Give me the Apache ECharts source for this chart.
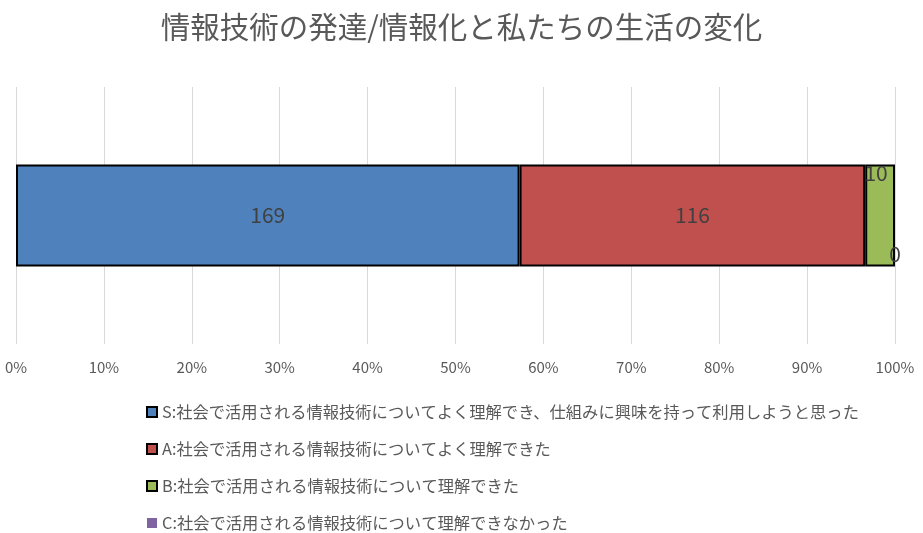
<!DOCTYPE html>
<html><head><meta charset="utf-8">
<script src="https://cdn.jsdelivr.net/npm/echarts@6/dist/echarts.min.js"></script>
<style>html,body{margin:0;padding:0;background:#fff}#c{width:923px;height:533px}</style>
</head><body><div id="c"></div>
<script>
const titleText = '情報技術の発達/情報化と私たちの生活の変化';
const seriesNames = [
  'S:社会で活用される情報技術についてよく理解でき、仕組みに興味を持って利用しようと思った',
  'A:社会で活用される情報技術についてよく理解できた',
  'B:社会で活用される情報技術について理解できた',
  'C:社会で活用される情報技術について理解できなかった'
];
const counts = [169, 116, 10, 0];
const colors = ['#4F81BD', '#C0504D', '#9BBB59', '#8064A2'];
const categories = [''];
const total = counts.reduce((a, b) => a + b, 0);
const font = '"Noto Sans CJK JP", "Noto Sans", sans-serif';
const labelPos = ['inside', 'inside', 'insideTop', 'insideBottom'];

const series = seriesNames.map((name, i) => ({
  name: name,
  type: 'bar',
  stack: 'all',
  barWidth: 102,
  data: [counts[i] / total * 100],
  itemStyle: { color: colors[i], borderColor: '#000', borderWidth: counts[i] > 0 ? 2 : 0 },
  label: {
    show: true,
    position: labelPos[i],
    distance: i === 2 ? 0 : (i === 3 ? 2 : 5),
    offset: i === 2 ? [-4, -2] : [0, 0],
    formatter: () => String(counts[i]),
    color: '#404040',
    fontSize: 21,
    fontFamily: font
  },
  emphasis: { disabled: true }
}));

const chart = echarts.init(document.getElementById('c'));
chart.setOption({
  animation: false,
  title: {
    text: titleText, left: 'center', top: 7,
    textStyle: { color: '#595959', fontSize: 29.5, fontWeight: 'normal', fontFamily: font }
  },
  legend: {
    orient: 'vertical', left: 146, top: 403, padding: 0,
    itemWidth: 10, itemHeight: 10, itemGap: 19,
    textStyle: { color: '#595959', fontSize: 16.3, lineHeight: 18, fontFamily: font },
    data: seriesNames.map((n, i) => ({ name: n, icon: 'rect',
      itemStyle: { color: colors[i], borderColor: '#000', borderWidth: i < 3 ? 2 : 0 } }))
  },
  grid: { left: 16, right: 28, top: 87, bottom: 189 },
  xAxis: {
    type: 'value', min: 0, max: 100, interval: 10,
    axisLabel: { formatter: '{value}%', color: '#595959', fontSize: 15, fontFamily: font, margin: 16 },
    splitLine: { lineStyle: { color: '#D9D9D9', width: 1 } },
    axisLine: { show: false }, axisTick: { show: false }
  },
  yAxis: {
    type: 'category', data: categories,
    axisLabel: { show: false }, axisTick: { show: false }, axisLine: { show: false }
  },
  series: series
});
</script></body></html>
